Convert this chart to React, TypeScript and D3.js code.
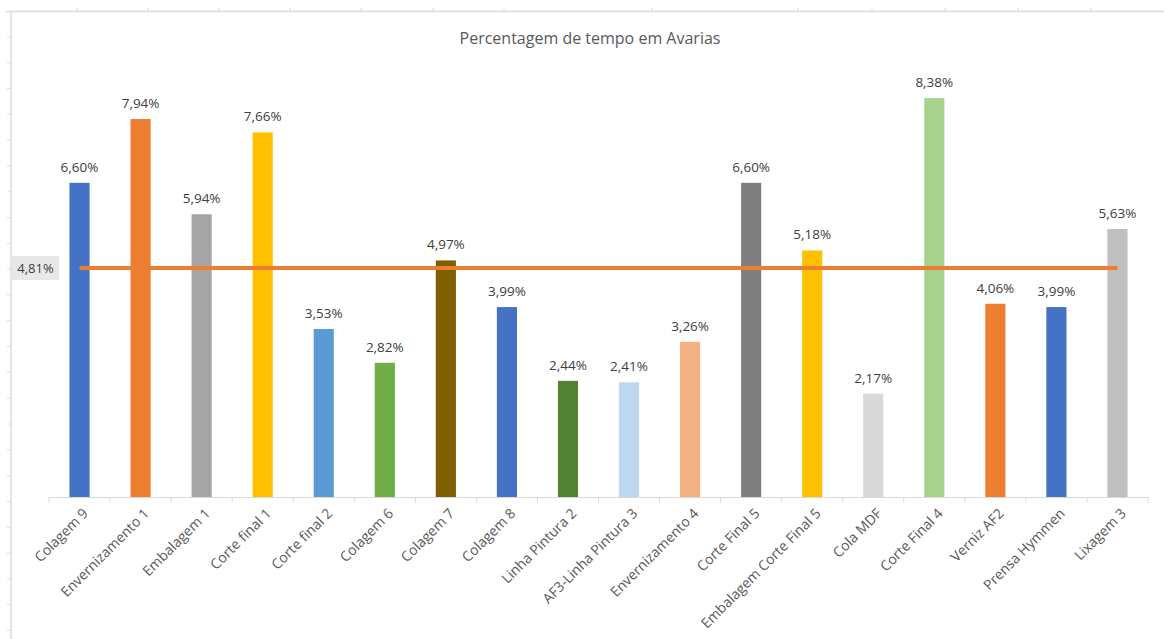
import React, { useEffect, useRef } from "react";
import * as d3 from "d3";

const categories = [
  "Colagem 9", "Envernizamento 1", "Embalagem 1", "Corte final 1", "Corte final 2",
  "Colagem 6", "Colagem 7", "Colagem 8", "Linha Pintura 2", "AF3-Linha Pintura 3",
  "Envernizamento 4", "Corte Final 5", "Embalagem Corte Final 5", "Cola MDF",
  "Corte Final 4", "Verniz AF2", "Prensa Hymmen", "Lixagem 3",
];
const values = [6.60, 7.94, 5.94, 7.66, 3.53, 2.82, 4.97, 3.99, 2.44, 2.41, 3.26, 6.60, 5.18, 2.17, 8.38, 4.06, 3.99, 5.63];
const barColors = [
  "#4472C4", "#ED7D31", "#A5A5A5", "#FFC000", "#5B9BD5", "#70AD47", "#7F6000", "#4472C4",
  "#548235", "#BDD7EE", "#F4B183", "#7F7F7F", "#FFC000", "#D9D9D9", "#A9D18E", "#ED7D31",
  "#4472C4", "#BFBFBF",
];
const average = 4.81;
const title = "Percentagem de tempo em Avarias";
const topRulerTicks = [77, 148, 219, 290, 361, 433, 504, 652, 798, 872, 945, 1018, 1091];

const W = 1164, H = 639;
const fmt = (v: number) => v.toFixed(2).replace(".", ",") + "%";

export default function App() {
  const ref = useRef<SVGSVGElement>(null);
  useEffect(() => {
    const svg = d3.select(ref.current);
    svg.selectAll("*").remove();
    const font = "'Open Sans', sans-serif";

    svg.append("rect").attr("width", W).attr("height", H).attr("fill", "#fff");

    // sheet-like frame lines
    const frame = svg.append("g").attr("stroke", "#dcdcdc").attr("stroke-width", 1.5);
    frame.append("line").attr("x1", 6).attr("x2", W).attr("y1", 11.5).attr("y2", 11.5);
    frame.append("line").attr("x1", 11).attr("x2", 11).attr("y1", 11.5).attr("y2", H);
    topRulerTicks.forEach((x) => {
      frame.append("line").attr("x1", x).attr("x2", x).attr("y1", 8).attr("y2", 11.5).attr("stroke-width", 1);
    });
    d3.range(37, H, 25.8).forEach((y) => {
      frame.append("line").attr("x1", 7).attr("x2", 11).attr("y1", y).attr("y2", y).attr("stroke-width", 1);
    });

    const x = d3.scaleBand<string>().domain(categories).range([49, 1148]).paddingInner(0.67).paddingOuter(0.335);
    const xc = d3.scaleBand<string>().domain(categories).range([49, 1148]).padding(0);
    const y = d3.scaleLinear().domain([0, 9]).range([497, 497 - 9 * 47.6]);

    // title
    svg.append("text").attr("x", 590).attr("y", 44).attr("text-anchor", "middle")
      .attr("font-family", font).attr("font-size", 16).attr("fill", "#595959").text(title);

    // bars
    svg.append("g").selectAll("rect").data(values).join("rect")
      .attr("x", (_, i) => x(categories[i])!)
      .attr("width", x.bandwidth())
      .attr("y", (d) => y(d))
      .attr("height", (d) => y(0) - y(d))
      .attr("fill", (_, i) => barColors[i]);

    // data labels
    svg.append("g").selectAll("text").data(values).join("text")
      .attr("x", (_, i) => x(categories[i])! + x.bandwidth() / 2)
      .attr("y", (d) => y(d) - 11)
      .attr("text-anchor", "middle")
      .attr("font-family", font).attr("font-size", 13.5).attr("fill", "#404040")
      .text((d) => fmt(d));

    // x axis
    const ax = svg.append("g");
    ax.append("line").attr("x1", 49).attr("x2", 1148).attr("y1", 497.5).attr("y2", 497.5)
      .attr("stroke", "#d9d9d9").attr("stroke-width", 1);
    const bounds = categories.map((c) => xc(c)!).concat([1148]);
    ax.selectAll("line.tk").data(bounds).join("line").attr("class", "tk")
      .attr("x1", (d) => d).attr("x2", (d) => d).attr("y1", 497.5).attr("y2", 503)
      .attr("stroke", "#d9d9d9");
    ax.selectAll("text").data(categories).join("text")
      .attr("transform", (d) => `translate(${xc(d)! + xc.bandwidth() / 2 + 2},${507}) rotate(-45)`)
      .attr("text-anchor", "end")
      .attr("dy", "0.75em")
      .attr("font-family", font).attr("font-size", 14).attr("fill", "#595959")
      .text((d) => d);

    // average line
    const ya = y(average);
    svg.append("line")
      .attr("x1", xc(categories[0])! + xc.bandwidth() / 2)
      .attr("x2", xc(categories[categories.length - 1])! + xc.bandwidth() / 2)
      .attr("y1", ya).attr("y2", ya)
      .attr("stroke", "#ED7D31").attr("stroke-width", 4);
    svg.append("rect").attr("x", 12).attr("y", ya - 12).attr("width", 47).attr("height", 24)
      .attr("fill", "#e8e8e8");
    svg.append("text").attr("x", 35.5).attr("y", ya).attr("dy", "0.35em").attr("text-anchor", "middle")
      .attr("font-family", font).attr("font-size", 13).attr("fill", "#404040").text(fmt(average));
  }, []);
  return (
    <svg ref={ref} width={W} height={H} style={{ position: "absolute", left: 0, top: 0 }} />
  );
}
